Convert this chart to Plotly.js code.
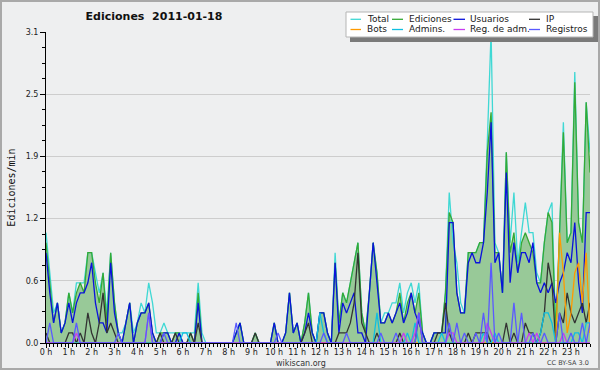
<!DOCTYPE html>
<html>
<head>
<meta charset="utf-8">
<script src="https://cdn.plot.ly/plotly-3.0.1.min.js"></script>
<style>
  html, body { margin: 0; padding: 0; background: #eeeff0; }
  #wrap { position: relative; width: 600px; height: 370px; }
  #chart { width: 600px; height: 370px; }
  #frame { position: absolute; left: 0; top: 0; width: 600px; height: 370px; box-sizing: border-box; border: 2px solid #a9a9a9; pointer-events: none; }
</style>
</head>
<body>
<div id="wrap"><div id="chart"></div><div id="frame"></div></div>
<script>
// ---- Data: edits per minute, one value every 10 minutes (144 points, 6 per hour) ----
const hourLabels = ['0 h','1 h','2 h','3 h','4 h','5 h','6 h','7 h','8 h','9 h','10 h','11 h',
  '12 h','13 h','14 h','15 h','16 h','17 h','18 h','19 h','20 h','21 h','22 h','23 h'];
const yTickVals = [0, 0.62, 1.24, 1.86, 2.48, 3.1];
const yTickText = ['0.0', '0.6', '1.2', '1.9', '2.5', '3.1'];

const total = [
  1.1,0.7,0.3,0.4,0.1,0.2,   0.5,0.3,0.6,0.6,0.6,0.9,   0.9,0.7,0.5,0.7,0.3,0.9,
  0.4,0.1,0.1,0.2,0.4,0.1,   0.2,0.4,0.3,0.6,0.4,0.1,   0.1,0.2,0.1,0.1,0.1,0.1,
  0.1,0.1,0.1,0.1,0.6,0.1,   0,0,0,0,0,0,               0,0,0.1,0.2,0,0,
  0,0.1,0,0,0,0,             0.2,0,0,0.1,0.5,0.1,       0.2,0,0.2,0.5,0.1,0,
  0.3,0.3,0.1,0,0.9,0.2,     0.5,0.4,0.6,0.8,1.0,0.3,   0.1,0.5,1.0,0.7,0.2,0.3,
  0.3,0.4,0.4,0.6,0.3,0.5,   0.6,0.4,0.6,0.1,0,0,       0.1,0.1,0.1,0.5,1.5,1.0,
  0.8,0.4,0.3,0.9,0.9,0.9,   1.0,1.0,2.0,3.1,1.0,0.9,   0.5,1.9,1.0,1.5,0.8,1.1,
  1.4,1.1,1.1,0.7,0.6,1.0,   1.3,1.4,0.1,1.1,2.2,1.0,   1.1,2.7,1.2,1.0,2.4,1.9
];
const ediciones = [
  1.0,0.6,0.2,0.4,0.1,0.2,   0.5,0.3,0.5,0.6,0.5,0.9,   0.9,0.6,0.4,0.7,0.2,0.9,
  0.4,0.1,0,0.2,0.4,0,       0.2,0.3,0.3,0.4,0.1,0,     0.1,0.1,0.1,0,0.1,0.1,
  0,0,0.1,0,0.5,0,           0,0,0,0,0,0,               0,0,0.1,0.2,0,0,
  0,0.1,0,0,0,0,             0.2,0,0,0.1,0.5,0.1,       0.2,0,0.2,0.5,0.1,0,
  0.3,0.3,0.1,0,0.8,0.2,     0.5,0.4,0.6,0.8,1.0,0.3,   0.1,0.5,1.0,0.7,0.2,0.2,
  0.3,0.2,0.3,0.5,0.2,0.4,   0.5,0.3,0.5,0.1,0,0,       0.1,0.1,0.1,0.5,1.3,1.2,
  0.5,0.3,0.3,0.9,0.9,0.9,   1.0,1.0,1.9,2.3,0.9,0.9,   0.5,1.9,0.9,1.1,0.7,1.0,
  1.1,1.0,0.9,0.6,0.6,1.0,   1.3,1.2,0.1,1.1,2.1,1.0,   1.1,2.6,1.2,1.0,2.4,1.7
];
const usuarios = [
  0.9,0.5,0.2,0.4,0.1,0.2,   0.4,0.2,0.4,0.5,0.5,0.6,   0.8,0.4,0.2,0.2,0.1,0.8,
  0.3,0.1,0,0.2,0.4,0,       0.2,0.3,0.3,0.4,0.1,0,     0,0.1,0.1,0,0,0.1,
  0,0,0,0,0.4,0,             0,0,0,0,0,0,               0,0,0.1,0.2,0,0,
  0,0,0,0,0,0,               0.2,0,0,0.1,0.5,0.1,       0.2,0,0.1,0.3,0.1,0,
  0.3,0.3,0.1,0,0.8,0.1,     0.4,0.3,0.4,0.5,0.1,0.1,   0,0.5,1.0,0.6,0.2,0.2,
  0.3,0.2,0.3,0.4,0.2,0.3,   0.5,0.3,0.2,0.1,0,0,       0.1,0.1,0.1,0.1,1.2,1.2,
  0.5,0.3,0.3,0.8,0.9,0.8,   0.8,1.0,1.5,2.2,0.8,0.9,   0.5,1.7,0.6,1.0,0.7,0.9,
  0.9,0.8,1.0,0.6,0.5,0.6,   0.5,0.6,0.4,0.6,0.7,0.9,   0.8,1.2,0.6,0.3,1.3,1.3
];
const ip = [
  0.1,0,0,0,0,0,             0.1,0.1,0,0.1,0,0.3,       0.1,0,0.2,0.5,0.1,0.2,
  0.1,0,0,0,0,0,             0,0,0,0,0,0,               0.1,0,0,0,0.1,0,
  0,0,0.1,0,0.2,0,           0,0,0,0,0,0,               0,0,0,0,0,0,
  0,0.1,0,0,0,0,             0,0,0,0,0,0,               0,0,0.1,0.2,0,0,
  0,0,0,0,0,0.1,             0.1,0.1,0.2,0.4,0.9,0.2,   0.1,0,0,0.1,0,0,
  0,0,0,0.1,0,0,             0,0,0.3,0,0,0,             0,0.1,0.1,0.4,0.1,0,
  0,0,0,0.1,0,0.1,           0.1,0.1,0.1,0,0,0,         0,0.2,0,0.1,0,0,
  0.2,0.1,0.1,0,0.1,0.3,     0.8,0.6,0,0.3,0.2,0.5,     0.3,0.2,0.3,0.4,0.2,0.4
];
const bots = [
  0,0,0,0,0,0, 0,0,0,0,0,0, 0,0,0,0,0,0, 0,0,0,0,0,0, 0,0,0,0,0,0, 0,0,0,0,0,0,
  0,0,0,0,0,0, 0,0,0,0,0,0, 0,0,0,0,0,0, 0,0,0,0,0,0, 0,0,0,0,0,0, 0,0,0,0,0,0,
  0,0,0,0,0,0, 0,0,0,0,0,0, 0,0,0,0,0,0, 0,0,0,0,0,0, 0,0,0,0,0,0, 0,0,0,0,0,0,
  0,0,0,0,0,0, 0,0,0,0,0,0, 0,0,0,0,0,0, 0,0,0,0,0,0,
  0,0,0,1.1,0.7,0.1,         0.3,0.7,0.8,0.4,0.9,0.1
];
const admins = [
  0,0,0,0,0,0, 0,0,0,0,0,0, 0,0,0,0,0,0, 0,0,0,0,0,0, 0,0,0,0,0,0, 0,0,0,0,0,0,
  0.1,0.1,0,0,0,0, 0,0,0,0,0,0, 0,0,0,0,0,0, 0,0,0,0,0,0, 0,0,0,0,0,0, 0,0,0,0,0,0,
  0.3,0.1,0,0,0,0, 0,0,0,0,0,0, 0,0,0,0.3,0,0, 0,0,0,0,0,0.1, 0,0.2,0,0,0,0, 0,0,0.1,0,0,0,
  0,0,0,0,0,0, 0,0.1,0,0,0.1,0, 0,0,0,0,0,0, 0,0,0,0,0.1,0.3,
  0.3,0.2,0,0,0,0,           0,0.1,0.1,0,0.2,0.2
];
const regAdm = [
  0,0,0,0,0,0, 0,0,0.1,0,0,0, 0,0,0,0,0,0, 0,0,0,0,0,0, 0,0,0,0.3,0,0, 0,0,0,0,0,0,
  0,0,0,0,0,0, 0,0,0,0,0,0, 0,0,0,0,0,0, 0,0,0,0,0,0, 0,0,0,0,0,0, 0,0,0,0,0,0,
  0,0,0,0,0,0, 0,0,0,0,0,0, 0,0,0,0,0,0, 0,0,0,0,0.1,0, 0,0.1,0.3,0,0,0, 0,0,0,0,0.1,0.1,
  0,0,0,0,0,0, 0,0,0.2,0.1,0,0, 0,0,0,0,0,0, 0,0.1,0,0.1,0,0,
  0,0,0,0,0.1,0,             0,0,0,0,0,0
];
const registros = [
  0,0.2,0,0,0,0, 0,0,0.2,0,0,0, 0,0,0,0,0,0, 0,0.1,0,0,0,0, 0,0,0,0.3,0,0, 0,0.1,0,0,0,0,
  0,0,0,0,0,0, 0,0,0,0,0,0, 0,0,0.2,0,0,0, 0,0,0,0,0,0, 0,0.1,0,0,0,0, 0,0,0,0,0,0,
  0,0.1,0,0,0,0, 0,0.1,0,0,0,0, 0,0,0,0,0.1,0, 0,0,0.1,0,0,0, 0,0,0.3,0,0,0, 0,0,0,0,0.2,0,
  0.2,0,0.1,0,0,0.1, 0,0.3,0,0.8,0,0.1, 0,0,0,0.4,0,0.3, 0,0,0.1,0,0,0.1,
  0,0,0,0.3,0,0,             0.1,0,0,0.2,0,0.2
];

// x positions: minutes since midnight for each 10-minute sample
const minutes = total.map((_, i) => i * 10);
const hourTicks = hourLabels.map((_, h) => h * 60);

const FONT = 'DejaVu Sans';
const series = [
  {name: 'Total',        y: total,     color: '#3fd8d4'},
  {name: 'Ediciones',    y: ediciones, color: '#35a935'},
  {name: 'Usuarios',     y: usuarios,  color: '#0a12dc'},
  {name: 'IP',           y: ip,        color: '#333333'},
  {name: 'Bots',         y: bots,      color: '#ff9a00'},
  {name: 'Admins.',      y: admins,    color: '#10bfe0'},
  {name: 'Reg. de adm.', y: regAdm,    color: '#c83cf0'},
  {name: 'Registros',    y: registros, color: '#5a5aff'}
];

const traces = [{
  x: minutes, y: ediciones, type: 'scatter', mode: 'lines',
  fill: 'tozeroy', fillcolor: '#98c998', line: {width: 0, color: '#98c998'},
  showlegend: false, hoverinfo: 'skip'
}];
series.forEach(s => traces.push({
  x: minutes, y: s.y, name: s.name, type: 'scatter', mode: 'lines',
  line: {color: s.color, width: 1.3}, showlegend: false
}));

// ---- manual legend (pixel positions converted to paper coords) ----
const L = 46, R = 590, T = 32, B = 343;
const px = x => (x - L) / (R - L);
const py = y => (B - y) / (B - T);
const shapes = [
  {type: 'rect', xref: 'paper', yref: 'paper', x0: px(350), x1: px(598), y0: py(42), y1: py(16),
   fillcolor: '#7a7a7a', line: {width: 0}},
  {type: 'rect', xref: 'paper', yref: 'paper', x0: px(346), x1: px(593), y0: py(37), y1: py(12),
   fillcolor: '#ffffff', line: {width: 1, color: '#b5b5b5'}}
];
const annotations = [];
const colSw = [[350.5, 361], [392, 403], [453.5, 465], [529, 540]];
const colTx = [366, 408, 469, 545];
const rowY = [19.3, 29.5];
series.forEach((s, k) => {
  const r = Math.floor(k / 4), c = k % 4;
  shapes.push({type: 'line', xref: 'paper', yref: 'paper',
    x0: px(colSw[c][0]), x1: px(colSw[c][1]), y0: py(rowY[r]), y1: py(rowY[r]),
    line: {color: s.color, width: 1.3}});
  annotations.push({xref: 'paper', yref: 'paper', x: px(colTx[c] - 1), y: py(rowY[r] - 0.5),
    xanchor: 'left', yanchor: 'middle', showarrow: false, text: s.name,
    font: {family: FONT, size: 9, color: '#1a1a1a'}});
});
annotations.push({xref: 'paper', yref: 'paper', x: px(301), y: py(363.5), xanchor: 'center', yanchor: 'middle',
  showarrow: false, text: 'wikiscan.org', font: {family: FONT, size: 8, color: '#333'}});
annotations.push({xref: 'paper', yref: 'paper', x: px(591), y: py(363.5), xanchor: 'right', yanchor: 'middle',
  showarrow: false, text: 'CC BY-SA 3.0', font: {family: FONT, size: 6.5, color: '#444'}});

const layout = {
  width: 600, height: 370,
  margin: {l: L, r: 600 - R, t: T, b: 370 - B, pad: 0},
  paper_bgcolor: '#eeeff0', plot_bgcolor: '#eeeff0',
  showlegend: false,
  title: {text: '<b>Ediciones\u00a0 2011-01-18</b>', x: 154 / 600, xanchor: 'center',
          y: 1 - 16 / 370, yanchor: 'middle', font: {family: FONT, size: 11, color: '#111'}},
  xaxis: {
    range: [0, 1430], tickmode: 'array', tickvals: hourTicks, ticktext: hourLabels,
    ticks: 'outside', ticklen: 4, tickcolor: '#000', tickwidth: 1, ticklabelstandoff: -3,
    showline: true, linecolor: '#000', linewidth: 1, showgrid: false, zeroline: false,
    tickfont: {family: FONT, size: 8, color: '#222'}, layer: 'above traces',
    minor: {tickmode: 'linear', tick0: 0, dtick: 10, ticks: 'outside', ticklen: 3, tickcolor: '#000', showgrid: false},
    fixedrange: true
  },
  yaxis: {
    range: [0, 3.1], tickmode: 'array', tickvals: yTickVals, ticktext: yTickText,
    ticks: 'outside', ticklen: 5, tickcolor: '#000', tickwidth: 1,
    showline: true, linecolor: '#000', linewidth: 1, showgrid: true, gridcolor: '#cdcdcd', gridwidth: 1,
    zeroline: false, tickfont: {family: FONT, size: 8, color: '#222'}, layer: 'above traces',
    minor: {tickmode: 'linear', tick0: 0, dtick: 0.155, ticks: 'outside', ticklen: 3, tickcolor: '#000', showgrid: false},
    title: {text: 'Ediciones/min', standoff: 8, font: {family: 'DejaVu Sans Mono', size: 10, color: '#111'}},
    fixedrange: true
  },
  shapes: shapes,
  annotations: annotations
};

Plotly.newPlot('chart', traces, layout, {displayModeBar: false, staticPlot: true});
</script>
</body>
</html>
